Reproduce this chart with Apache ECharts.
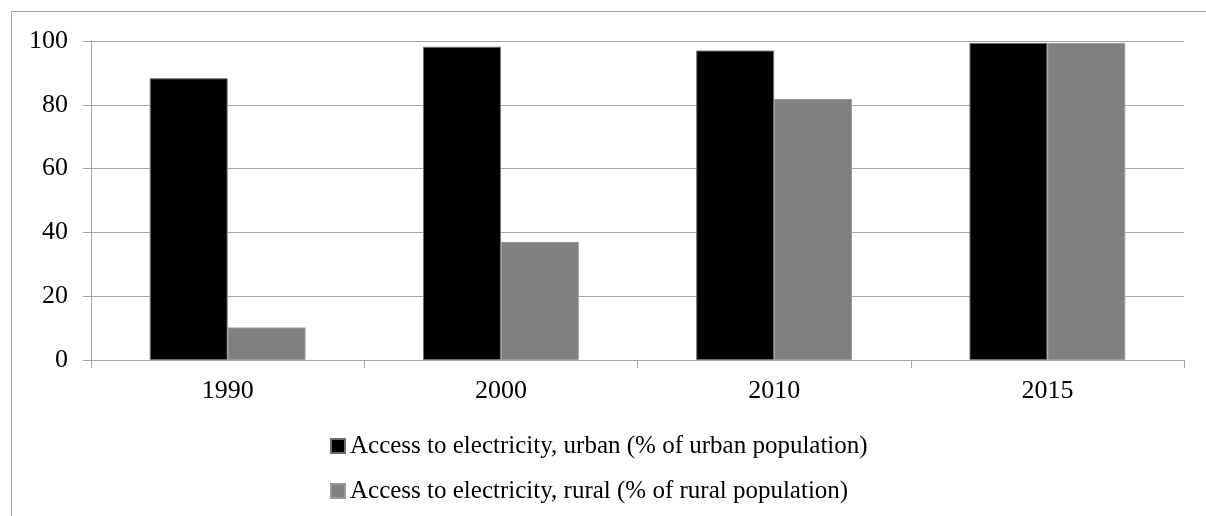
<!DOCTYPE html>
<html>
<head>
<meta charset="utf-8">
<script src="https://cdn.jsdelivr.net/npm/echarts@6/dist/echarts.min.js"></script>
<style>
  html, body { margin: 0; padding: 0; background: #ffffff; }
  #chart { width: 1206px; height: 516px; }
</style>
</head>
<body>
<div id="chart"></div>
<script>
// Access to electricity, share of population (%)
const years = ['1990', '2000', '2010', '2015'];
const urbanAccess = [88.3, 98.2, 97.0, 99.4];
const ruralAccess = [10.2, 37.0, 81.8, 99.4];
const urbanName = 'Access to electricity, urban (% of urban population)';
const ruralName = 'Access to electricity, rural (% of rural population)';

const serif = "'Liberation Serif', 'Times New Roman', serif";
const lineGray = '#a6a6a6';

// one legend block per series, stacked under the plot
function legendRow(name, top) {
  return {
    orient: 'vertical',
    left: 330,
    top: top,
    icon: 'rect',
    itemWidth: 14,
    itemHeight: 14,
    itemGap: 0,
    padding: 0,
    textStyle: { fontFamily: serif, fontSize: 25, color: '#000000', lineHeight: 30, padding: [0, 0, 0, 0] },
    data: [name]
  };
}

const chart = echarts.init(document.getElementById('chart'), null, { renderer: 'canvas' });

chart.setOption({
  animation: false,
  backgroundColor: '#ffffff',
  textStyle: { fontFamily: serif, color: '#000000' },
  graphic: [{
    type: 'rect',
    silent: true,
    z: -10,
    shape: { x: 11.5, y: 11.5, width: 1400, height: 800 },
    style: { fill: 'none', stroke: lineGray, lineWidth: 1 }
  }],
  grid: { left: 91, right: 22, top: 41, bottom: 156, containLabel: false },
  legend: [legendRow(urbanName, 431), legendRow(ruralName, 476)],
  xAxis: {
    type: 'category',
    data: years,
    axisLine: { show: true, lineStyle: { color: lineGray, width: 1 } },
    axisTick: { show: true, length: 8, lineStyle: { color: lineGray } },
    axisLabel: { fontFamily: serif, fontSize: 26, color: '#000000', margin: 18 }
  },
  yAxis: {
    type: 'value',
    min: 0,
    max: 100,
    interval: 20,
    axisLine: { show: true, lineStyle: { color: lineGray, width: 1 } },
    axisTick: { show: true, length: 8, lineStyle: { color: lineGray } },
    axisLabel: { fontFamily: serif, fontSize: 26, color: '#000000', margin: 23 },
    splitLine: { show: true, lineStyle: { color: lineGray, width: 1 } }
  },
  series: [
    {
      name: urbanName,
      type: 'bar',
      data: urbanAccess,
      barWidth: '28.5%',
      barGap: '0%',
      itemStyle: { color: '#000000', borderColor: '#6e6e6e', borderWidth: 1 }
    },
    {
      name: ruralName,
      type: 'bar',
      data: ruralAccess,
      barWidth: '28.5%',
      barGap: '0%',
      itemStyle: { color: '#808080', borderColor: '#9a9a9a', borderWidth: 1 }
    }
  ]
});
</script>
</body>
</html>
